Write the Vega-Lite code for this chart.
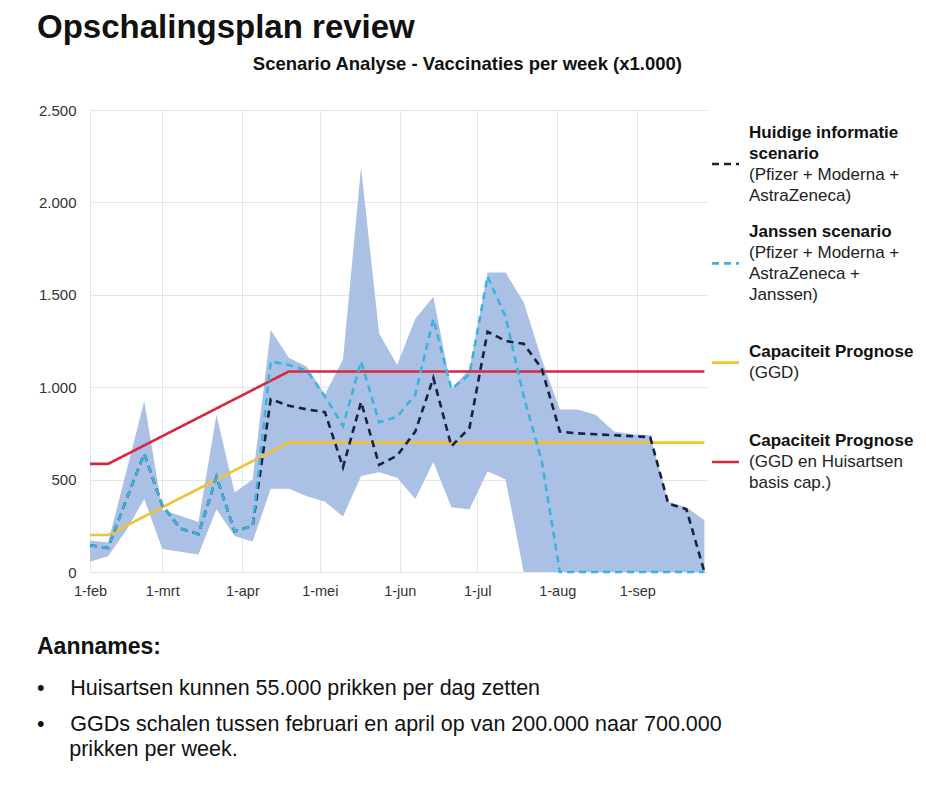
{
  "$schema": "https://vega.github.io/schema/vega-lite/v6.json",
  "background": "white",
  "padding": {"left": 37, "top": 11, "right": 5, "bottom": 5},
  "config": {
    "font": "Liberation Sans",
    "view": {"stroke": null},
    "axis": {"labelColor": "#333333", "labelFont": "Liberation Sans", "gridColor": "#e4e4ec", "gridWidth": 1, "domain": false, "ticks": false, "title": null}
  },
  "title": {"text": "Opschalingsplan review", "anchor": "start", "fontSize": 33, "fontWeight": "bold", "color": "#111111", "offset": 10},
  "datasets": {
    "weekly": [
      {"date": "2021-02-01", "huidige": 145, "janssen": 145, "low": 55, "high": 170, "ggd": 200, "ggd_ha": 585},
      {"date": "2021-02-08", "huidige": 130, "janssen": 130, "low": 85, "high": 160, "ggd": 200, "ggd_ha": 585},
      {"date": "2021-02-15", "huidige": 390, "janssen": 390, "low": 225, "high": 540, "ggd": 250, "ggd_ha": 635},
      {"date": "2021-02-22", "huidige": 640, "janssen": 640, "low": 395, "high": 925, "ggd": 300, "ggd_ha": 685},
      {"date": "2021-03-01", "huidige": 360, "janssen": 360, "low": 125, "high": 335, "ggd": 350, "ggd_ha": 735},
      {"date": "2021-03-08", "huidige": 235, "janssen": 235, "low": 110, "high": 305, "ggd": 400, "ggd_ha": 785},
      {"date": "2021-03-15", "huidige": 205, "janssen": 205, "low": 95, "high": 270, "ggd": 450, "ggd_ha": 835},
      {"date": "2021-03-22", "huidige": 515, "janssen": 515, "low": 340, "high": 850, "ggd": 500, "ggd_ha": 885},
      {"date": "2021-03-29", "huidige": 220, "janssen": 220, "low": 195, "high": 430, "ggd": 550, "ggd_ha": 935},
      {"date": "2021-04-05", "huidige": 250, "janssen": 250, "low": 165, "high": 500, "ggd": 600, "ggd_ha": 985},
      {"date": "2021-04-12", "huidige": 935, "janssen": 1140, "low": 450, "high": 1310, "ggd": 650, "ggd_ha": 1035},
      {"date": "2021-04-19", "huidige": 900, "janssen": 1120, "low": 450, "high": 1160, "ggd": 700, "ggd_ha": 1085},
      {"date": "2021-04-26", "huidige": 880, "janssen": 1090, "low": 410, "high": 1110, "ggd": 700, "ggd_ha": 1085},
      {"date": "2021-05-03", "huidige": 865, "janssen": 950, "low": 380, "high": 960, "ggd": 700, "ggd_ha": 1085},
      {"date": "2021-05-10", "huidige": 567, "janssen": 790, "low": 300, "high": 1150, "ggd": 700, "ggd_ha": 1085},
      {"date": "2021-05-17", "huidige": 920, "janssen": 1140, "low": 520, "high": 2190, "ggd": 700, "ggd_ha": 1085},
      {"date": "2021-05-24", "huidige": 580, "janssen": 810, "low": 540, "high": 1290, "ggd": 700, "ggd_ha": 1085},
      {"date": "2021-05-31", "huidige": 630, "janssen": 840, "low": 510, "high": 1120, "ggd": 700, "ggd_ha": 1085},
      {"date": "2021-06-07", "huidige": 760, "janssen": 960, "low": 395, "high": 1370, "ggd": 700, "ggd_ha": 1085},
      {"date": "2021-06-14", "huidige": 1050, "janssen": 1370, "low": 595, "high": 1490, "ggd": 700, "ggd_ha": 1085},
      {"date": "2021-06-21", "huidige": 680, "janssen": 990, "low": 350, "high": 990, "ggd": 700, "ggd_ha": 1085},
      {"date": "2021-06-28", "huidige": 780, "janssen": 1070, "low": 340, "high": 1100, "ggd": 700, "ggd_ha": 1085},
      {"date": "2021-07-05", "huidige": 1300, "janssen": 1600, "low": 545, "high": 1620, "ggd": 700, "ggd_ha": 1085},
      {"date": "2021-07-12", "huidige": 1250, "janssen": 1380, "low": 500, "high": 1620, "ggd": 700, "ggd_ha": 1085},
      {"date": "2021-07-19", "huidige": 1235, "janssen": 950, "low": 0, "high": 1460, "ggd": 700, "ggd_ha": 1085},
      {"date": "2021-07-26", "huidige": 1100, "janssen": 600, "low": 0, "high": 1150, "ggd": 700, "ggd_ha": 1085},
      {"date": "2021-08-02", "huidige": 760, "janssen": 0, "low": 0, "high": 880, "ggd": 700, "ggd_ha": 1085},
      {"date": "2021-08-09", "huidige": 750, "janssen": 0, "low": 0, "high": 880, "ggd": 700, "ggd_ha": 1085},
      {"date": "2021-08-16", "huidige": 745, "janssen": 0, "low": 0, "high": 850, "ggd": 700, "ggd_ha": 1085},
      {"date": "2021-08-23", "huidige": 740, "janssen": 0, "low": 0, "high": 760, "ggd": 700, "ggd_ha": 1085},
      {"date": "2021-08-30", "huidige": 735, "janssen": 0, "low": 0, "high": 745, "ggd": 700, "ggd_ha": 1085},
      {"date": "2021-09-06", "huidige": 730, "janssen": 0, "low": 0, "high": 740, "ggd": 700, "ggd_ha": 1085},
      {"date": "2021-09-13", "huidige": 370, "janssen": 0, "low": 0, "high": 380, "ggd": 700, "ggd_ha": 1085},
      {"date": "2021-09-20", "huidige": 340, "janssen": 0, "low": 0, "high": 350, "ggd": 700, "ggd_ha": 1085},
      {"date": "2021-09-27", "huidige": 0, "janssen": 0, "low": 0, "high": 280, "ggd": 700, "ggd_ha": 1085}
    ],
    "legend": [
      {"series": "huidige", "title": "Huidige informatie\nscenario", "desc": "(Pfizer + Moderna +\nAstraZeneca)"},
      {"series": "janssen", "title": "Janssen scenario", "desc": "(Pfizer + Moderna +\nAstraZeneca +\nJanssen)"},
      {"series": "ggd", "title": "Capaciteit Prognose", "desc": "(GGD)"},
      {"series": "ggd_ha", "title": "Capaciteit Prognose", "desc": "(GGD en Huisartsen\nbasis cap.)"}
    ]
  },
  "vconcat": [
    {
      "bounds": "flush",
      "spacing": 5,
      "hconcat": [
        {
          "width": 617,
          "height": 462,
          "title": {"text": "Scenario Analyse - Vaccinaties per week (x1.000)", "anchor": "end", "frame": "group", "dx": -25, "fontSize": 18.5, "fontWeight": "bold", "color": "#111111", "offset": 30},
          "data": {"name": "weekly"},
          "encoding": {
            "x": {
              "field": "date", "type": "temporal",
              "scale": {"type": "utc", "nice": false, "domain": [{"year": 2021, "month": 2, "date": 1, "utc": true}, {"year": 2021, "month": 9, "date": 28, "utc": true}]},
              "axis": {
                "values": [
                  {"year": 2021, "month": 2, "date": 1, "utc": true},
                  {"year": 2021, "month": 3, "date": 1, "utc": true},
                  {"year": 2021, "month": 4, "date": 1, "utc": true},
                  {"year": 2021, "month": 5, "date": 1, "utc": true},
                  {"year": 2021, "month": 6, "date": 1, "utc": true},
                  {"year": 2021, "month": 7, "date": 1, "utc": true},
                  {"year": 2021, "month": 8, "date": 1, "utc": true},
                  {"year": 2021, "month": 9, "date": 1, "utc": true}
                ],
                "labelExpr": "'1-' + ['jan','feb','mrt','apr','mei','jun','jul','aug','sep','okt','nov','dec'][utcmonth(datum.value)]",
                "labelFontSize": 14.5, "labelPadding": 12, "labelFlush": false, "grid": true, "title": null
              }
            }
          },
          "layer": [
            {
              "mark": {"type": "area", "color": "#abc0e5", "opacity": 1},
              "encoding": {
                "y": {"field": "high", "type": "quantitative", "scale": {"domain": [0, 2500], "nice": false, "zero": true},
                  "axis": {"values": [0, 500, 1000, 1500, 2000, 2500], "labelExpr": "replace(format(datum.value, ','), ',', '.')", "labelFontSize": 15, "labelPadding": 14, "grid": true, "title": null}},
                "y2": {"field": "low"}
              }
            },
            {
              "transform": [{"fold": ["ggd_ha", "ggd", "huidige", "janssen"], "as": ["series", "value"]}],
              "mark": {"type": "line", "strokeWidth": 2.6},
              "encoding": {
                "y": {"field": "value", "type": "quantitative", "title": null},
                "color": {"field": "series", "type": "nominal", "scale": {"domain": ["huidige", "janssen", "ggd", "ggd_ha"], "range": ["#18213d", "#3bb3dc", "#f1c232", "#d6283c"]}, "legend": null},
                "strokeDash": {"field": "series", "type": "nominal", "scale": {"domain": ["huidige", "janssen", "ggd", "ggd_ha"], "range": [[7, 5], [7, 5], [1, 0], [1, 0]]}, "legend": null}
              }
            }
          ]
        },
        {
          "width": 200,
          "height": 406,
          "data": {"name": "legend"},
          "encoding": {
            "y": {"field": "series", "type": "nominal", "scale": {"type": "point", "domain": ["huidige", "janssen", "ggd", "ggd_ha"], "padding": 0.544}, "axis": null}
          },
          "layer": [
            {
              "mark": {"type": "rule", "strokeWidth": 2.6},
              "encoding": {
                "x": {"datum": 0, "type": "quantitative", "scale": {"domain": [0, 200]}, "axis": null},
                "x2": {"datum": 27},
                "color": {"field": "series", "type": "nominal", "scale": {"domain": ["huidige", "janssen", "ggd", "ggd_ha"], "range": ["#18213d", "#3bb3dc", "#f1c232", "#d6283c"]}, "legend": null},
                "strokeDash": {"field": "series", "type": "nominal", "scale": {"domain": ["huidige", "janssen", "ggd", "ggd_ha"], "range": [[7, 5], [7, 5], [1, 0], [1, 0]]}, "legend": null}
              }
            },
            {
              "transform": [{"filter": {"field": "series", "oneOf": ["huidige", "janssen"]}}],
              "mark": {"type": "text", "align": "left", "baseline": "middle", "dy": -31.5, "fontWeight": "bold", "fontSize": 17, "lineHeight": 21, "lineBreak": "\n", "color": "#111111"},
              "encoding": {"x": {"datum": 37, "type": "quantitative"}, "text": {"field": "title", "type": "nominal"}}
            },
            {
              "transform": [{"filter": {"field": "series", "equal": "ggd"}}],
              "mark": {"type": "text", "align": "left", "baseline": "middle", "dy": -10.5, "fontWeight": "bold", "fontSize": 17, "lineHeight": 21, "lineBreak": "\n", "color": "#111111"},
              "encoding": {"x": {"datum": 37, "type": "quantitative"}, "text": {"field": "title", "type": "nominal"}}
            },
            {
              "transform": [{"filter": {"field": "series", "equal": "ggd_ha"}}],
              "mark": {"type": "text", "align": "left", "baseline": "middle", "dy": -21, "fontWeight": "bold", "fontSize": 17, "lineHeight": 21, "lineBreak": "\n", "color": "#111111"},
              "encoding": {"x": {"datum": 37, "type": "quantitative"}, "text": {"field": "title", "type": "nominal"}}
            },
            {
              "transform": [{"filter": {"field": "series", "oneOf": ["huidige", "ggd"]}}],
              "mark": {"type": "text", "align": "left", "baseline": "middle", "dy": 10.5, "fontWeight": "normal", "fontSize": 17, "lineHeight": 21, "lineBreak": "\n", "color": "#222222"},
              "encoding": {"x": {"datum": 37, "type": "quantitative"}, "text": {"field": "desc", "type": "nominal"}}
            },
            {
              "transform": [{"filter": {"field": "series", "equal": "janssen"}}],
              "mark": {"type": "text", "align": "left", "baseline": "middle", "dy": -10.5, "fontWeight": "normal", "fontSize": 17, "lineHeight": 21, "lineBreak": "\n", "color": "#222222"},
              "encoding": {"x": {"datum": 37, "type": "quantitative"}, "text": {"field": "desc", "type": "nominal"}}
            },
            {
              "transform": [{"filter": {"field": "series", "equal": "ggd_ha"}}],
              "mark": {"type": "text", "align": "left", "baseline": "middle", "dy": 0, "fontWeight": "normal", "fontSize": 17, "lineHeight": 21, "lineBreak": "\n", "color": "#222222"},
              "encoding": {"x": {"datum": 37, "type": "quantitative"}, "text": {"field": "desc", "type": "nominal"}}
            }
          ]
        }
      ]
    },
    {
      "spacing": 14,
      "vconcat": [
        {
          "width": 800,
          "height": 1,
          "data": {"values": []},
          "mark": "text",
          "encoding": {},
          "title": {
            "text": "Aannames:",
            "subtitle": "•\u2002\u2002\u2009Huisartsen kunnen 55.000 prikken per dag zetten",
            "anchor": "start",
            "frame": "group",
            "dx": -53,
            "fontSize": 23,
            "fontWeight": "bold",
            "color": "#111111",
            "subtitleFontSize": 21.5,
            "subtitleFontWeight": "normal",
            "subtitleColor": "#111111",
            "subtitlePadding": 19,
            "offset": 0
          }
        },
        {
          "width": 800,
          "height": 1,
          "data": {"values": []},
          "mark": "text",
          "encoding": {},
          "title": {
            "text": ["•\u2002\u2002\u2009GGDs schalen tussen februari en april op van 200.000 naar 700.000", "\u200b\u2002\u2002\u2002prikken per week."],
            "anchor": "start",
            "frame": "group",
            "dx": -53,
            "fontSize": 21.5,
            "fontWeight": "normal",
            "lineHeight": 24.5,
            "color": "#111111",
            "offset": 0
          }
        }
      ]
    }
  ],
  "spacing": 37
}
